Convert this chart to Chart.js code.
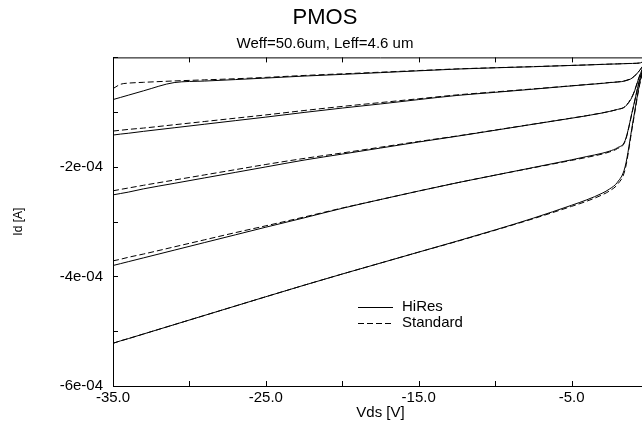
<!DOCTYPE html>
<html>
<head>
<meta charset="utf-8">
<script src="https://cdn.jsdelivr.net/npm/chart.js@4.4.1/dist/chart.umd.min.js"></script>
<style>
  html, body { margin: 0; padding: 0; background: #fff; overflow: hidden; }
  #wrap { width: 651px; height: 423px; }
</style>
</head>
<body>
<div id="wrap"><canvas id="chart" width="651" height="423"></canvas></div>
<script>
// Drain voltage sweep [V]
const VDS = [-35, -34.5, -34, -33, -31, -29, -27, -25, -22.5, -20, -17.5, -15, -12.5, -10, -7.5, -5, -4, -3, -2.5, -2, -1.5, -1, -0.5, 0];

// Drain current in units of 1e-4 A, one curve per gate step
const hiRes1 = [-0.77, -0.73, -0.69, -0.61, -0.46, -0.432, -0.405, -0.377, -0.341, -0.31, -0.278, -0.245, -0.213, -0.19, -0.17, -0.147, -0.138, -0.128, -0.123, -0.119, -0.114, -0.11, -0.10, 0];
const std1   = [-0.57, -0.49, -0.47, -0.455, -0.43, -0.41, -0.39, -0.365, -0.33, -0.30, -0.27, -0.24, -0.21, -0.188, -0.168, -0.146, -0.137, -0.127, -0.122, -0.118, -0.113, -0.109, -0.10, 0];
const hiRes2 = [-1.418, -1.40, -1.385, -1.35, -1.285, -1.22, -1.155, -1.09, -1.005, -0.925, -0.85, -0.77, -0.695, -0.638, -0.58, -0.52, -0.497, -0.475, -0.46, -0.45, -0.43, -0.37, -0.22, 0];
const std2   = [-1.345, -1.33, -1.315, -1.29, -1.23, -1.17, -1.11, -1.05, -0.97, -0.895, -0.825, -0.755, -0.685, -0.63, -0.575, -0.518, -0.495, -0.472, -0.458, -0.447, -0.425, -0.365, -0.22, 0];
const hiRes3 = [-2.51, -2.485, -2.46, -2.40, -2.30, -2.20, -2.10, -2.00, -1.875, -1.765, -1.655, -1.545, -1.44, -1.33, -1.22, -1.11, -1.065, -1.015, -0.985, -0.95, -0.90, -0.70, -0.30, 0];
const std3   = [-2.436, -2.41, -2.385, -2.335, -2.24, -2.145, -2.05, -1.955, -1.845, -1.745, -1.64, -1.535, -1.435, -1.327, -1.218, -1.108, -1.063, -1.013, -0.985, -0.95, -0.895, -0.69, -0.30, 0];
const hiRes4 = [-3.80, -3.765, -3.73, -3.66, -3.52, -3.38, -3.24, -3.10, -2.93, -2.755, -2.595, -2.44, -2.29, -2.15, -2.01, -1.87, -1.81, -1.75, -1.71, -1.65, -1.52, -0.95, -0.36, 0];
const std4   = [-3.715, -3.685, -3.65, -3.59, -3.46, -3.33, -3.20, -3.075, -2.915, -2.75, -2.595, -2.44, -2.29, -2.15, -2.015, -1.88, -1.825, -1.765, -1.725, -1.665, -1.535, -0.96, -0.36, 0];
const hiRes5 = [-5.22, -5.175, -5.135, -5.05, -4.88, -4.71, -4.54, -4.37, -4.16, -3.955, -3.755, -3.555, -3.355, -3.15, -2.935, -2.70, -2.60, -2.48, -2.40, -2.28, -2.00, -1.20, -0.42, 0];
const std5   = [-5.22, -5.175, -5.135, -5.05, -4.88, -4.71, -4.54, -4.37, -4.16, -3.955, -3.755, -3.555, -3.36, -3.155, -2.945, -2.72, -2.625, -2.51, -2.435, -2.32, -2.05, -1.23, -0.44, 0];

const hiResCurves = [hiRes1, hiRes2, hiRes3, hiRes4, hiRes5];
const standardCurves = [std1, std2, std3, std4, std5];

// Axis ticks
const X_TICKS = [-35, -30, -25, -20, -15, -10, -5, 0];
const X_LABELED = [-35, -25, -15, -5];
const Y_TICKS = [-6, -5, -4, -3, -2, -1, 0];
const Y_LABELED = [-6, -4, -2];

const FONT = 'Liberation Sans, Arial, Helvetica, sans-serif';
const SOLID = [];
const DASHED = [6, 3];

function toPoints(ids) {
  return VDS.map((v, i) => ({ x: v, y: ids[i] }));
}

function curve(label, ids, dash) {
  return {
    label: label,
    data: toPoints(ids),
    borderColor: '#000',
    borderWidth: 1,
    borderDash: dash,
    pointRadius: 0,
    fill: false,
    cubicInterpolationMode: 'monotone'
  };
}

const datasets = [];
hiResCurves.forEach(c => datasets.push(curve('HiRes', c, SOLID)));
standardCurves.forEach(c => datasets.push(curve('Standard', c, DASHED)));

// "-2" -> "-2e-04"
function sciLabel(v) {
  return (v < 0 ? '-' : '') + Math.abs(v) + 'e-04';
}

// Top frame line plus inward tick marks on top, bottom and left
const framePlugin = {
  id: 'frame',
  afterDraw(chart) {
    const { ctx, chartArea: a, scales } = chart;
    const len = 5;
    ctx.save();
    ctx.strokeStyle = '#000';
    ctx.lineWidth = 1;
    ctx.beginPath();
    ctx.moveTo(a.left, a.top + 0.5);
    ctx.lineTo(a.right, a.top + 0.5);
    ctx.moveTo(a.right - 0.5, a.top);
    ctx.lineTo(a.right - 0.5, a.bottom);
    X_TICKS.forEach(v => {
      const x = Math.round(scales.x.getPixelForValue(v)) + 0.5;
      ctx.moveTo(x, a.bottom);
      ctx.lineTo(x, a.bottom - len);
      ctx.moveTo(x, a.top);
      ctx.lineTo(x, a.top + len);
    });
    Y_TICKS.forEach(v => {
      const y = Math.round(scales.y.getPixelForValue(v)) + 0.5;
      ctx.moveTo(a.left, y);
      ctx.lineTo(a.left + len, y);
    });
    ctx.stroke();
    ctx.restore();
  }
};

// Two-entry legend inside the plot
const legendPlugin = {
  id: 'curveLegend',
  afterDraw(chart) {
    const { ctx } = chart;
    const entries = [
      { text: 'HiRes', dash: SOLID, y: 307 },
      { text: 'Standard', dash: DASHED, y: 323 }
    ];
    ctx.save();
    ctx.strokeStyle = '#000';
    ctx.fillStyle = '#000';
    ctx.lineWidth = 1;
    ctx.font = '15px ' + FONT;
    ctx.textBaseline = 'middle';
    entries.forEach(e => {
      ctx.setLineDash(e.dash);
      ctx.beginPath();
      ctx.moveTo(358, e.y + 0.5);
      ctx.lineTo(393, e.y + 0.5);
      ctx.stroke();
      ctx.fillText(e.text, 402, e.y);
    });
    ctx.restore();
  }
};

new Chart(document.getElementById('chart'), {
  type: 'line',
  data: { datasets: datasets },
  plugins: [framePlugin, legendPlugin],
  options: {
    responsive: false,
    animation: false,
    devicePixelRatio: 1,
    layout: { padding: { left: 0, right: 1, top: 0, bottom: 0 } },
    plugins: {
      legend: { display: false },
      tooltip: { enabled: false },
      title: {
        display: true,
        text: 'PMOS',
        color: '#000',
        font: { family: FONT, size: 22, weight: 'normal' },
        padding: { top: 5, bottom: 3 }
      },
      subtitle: {
        display: true,
        text: 'Weff=50.6um, Leff=4.6 um',
        color: '#000',
        font: { family: FONT, size: 15, weight: 'normal' },
        padding: { top: 0, bottom: 5 }
      }
    },
    scales: {
      x: {
        type: 'linear',
        min: -35,
        max: 0,
        afterBuildTicks: s => { s.ticks = X_TICKS.map(v => ({ value: v })); },
        afterFit: s => { s.height = 37; },
        grid: { display: false, drawTicks: false },
        border: { display: true, color: '#000', width: 1 },
        ticks: {
          color: '#000',
          font: { family: FONT, size: 15 },
          padding: 3,
          maxRotation: 0,
          autoSkip: false,
          callback: v => X_LABELED.includes(v) ? v.toFixed(1) : ''
        },
        title: {
          display: true,
          text: 'Vds [V]',
          color: '#000',
          font: { family: FONT, size: 15 },
          padding: { top: 0, bottom: 1 }
        }
      },
      y: {
        type: 'linear',
        min: -6,
        max: 0,
        afterBuildTicks: s => { s.ticks = Y_TICKS.map(v => ({ value: v })); },
        afterFit: s => { s.width = 113; },
        grid: { display: false, drawTicks: false },
        border: { display: true, color: '#000', width: 1 },
        ticks: {
          color: '#000',
          font: { family: FONT, size: 15 },
          padding: 10,
          autoSkip: false,
          callback: v => Y_LABELED.includes(v) ? sciLabel(v) : ''
        },
        title: {
          display: true,
          text: 'Id [A]',
          color: '#000',
          font: { family: FONT, size: 12 },
          padding: { top: 11, bottom: 0 }
        }
      }
    }
  }
});
</script>
</body>
</html>
